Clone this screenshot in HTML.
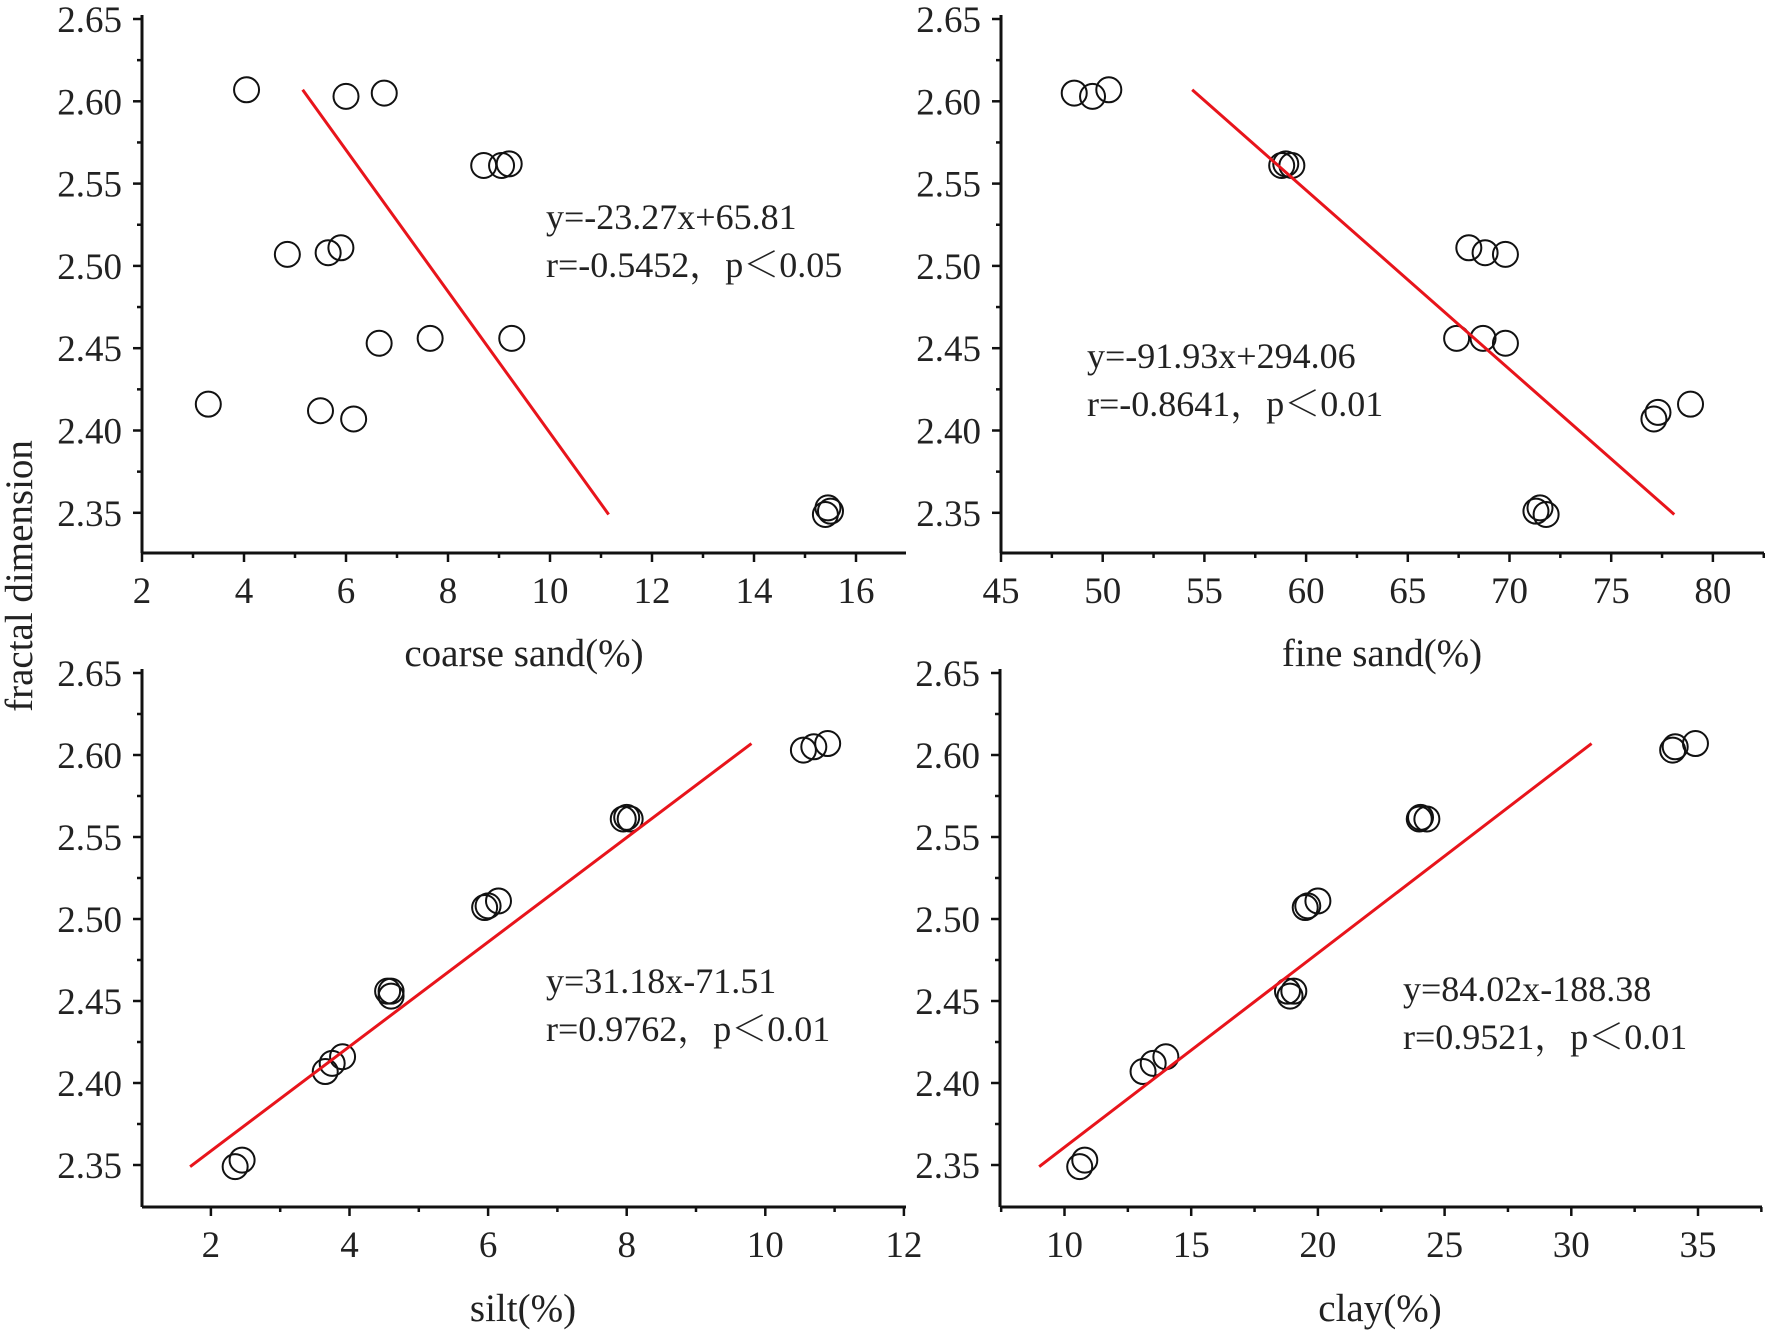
<!DOCTYPE html>
<html><head><meta charset="utf-8"><style>
html,body{margin:0;padding:0;background:#fff;}
svg{display:block;}
text{font-family:"Liberation Serif","Noto Serif CJK SC",serif;fill:#222;}
</style></head><body>
<svg id="s" width="1770" height="1338" viewBox="0 0 1770 1338" xmlns="http://www.w3.org/2000/svg">
<text x="32" y="576" font-size="39" text-anchor="middle" transform="rotate(-90 32 576)">fractal dimension</text>
</svg>
<script>
var S=document.getElementById('s'),NS='http://www.w3.org/2000/svg';
function el(t,a,txt){var e=document.createElementNS(NS,t);for(var k in a)e.setAttribute(k,a[k]);if(txt!=null)e.textContent=txt;S.appendChild(e);return e;}
function panel(P){
 var X=function(v){return P.x0+(v-P.xv0)*P.xs;},Y=function(v){return P.y265+(2.65-v)/0.05*P.ys;};
 var top=P.y265-4;
 el('line',{x1:P.ax,y1:top,x2:P.ax,y2:P.by,stroke:'#111','stroke-width':3});
 el('line',{x1:P.ax,y1:P.by,x2:P.right,y2:P.by,stroke:'#111','stroke-width':3});
 for(var i=0;i<=12;i++){var v=2.65-i*0.025,y=Y(v);if(y>P.by)break;var maj=i%2==0;
  el('line',{x1:P.ax-(maj?9:5),y1:y,x2:P.ax,y2:y,stroke:'#111','stroke-width':2.5});
  if(maj)el('text',{x:P.ax-20,y:y+13,'font-size':37,'text-anchor':'end'},v.toFixed(2));}
 P.xt.forEach(function(v){var x=X(v);el('line',{x1:x,y1:P.by,x2:x,y2:P.by+9,stroke:'#111','stroke-width':2.5});
  el('text',{x:x,y:P.by+50,'font-size':37,'text-anchor':'middle'},String(v));});
 for(var m=P.xt[0]-P.step/2;m<=P.xt[P.xt.length-1]+P.step;m+=P.step){var x=X(m);if(x<=P.ax||x>=P.right)continue;
  el('line',{x1:x,y1:P.by,x2:x,y2:P.by+5,stroke:'#111','stroke-width':2.5});}
 P.pts.forEach(function(p){el('circle',{cx:X(p[0]),cy:Y(p[1]),r:12.5,fill:'none',stroke:'#111','stroke-width':2});});
 el('line',{x1:X(P.ln[0]),y1:Y(P.ln[1]),x2:X(P.ln[2]),y2:Y(P.ln[3]),stroke:'#e8141b','stroke-width':3});
 el('text',{x:P.tx,y:P.ty,'font-size':36},P.t1);
 el('text',{x:P.tx,y:P.ty+48,'font-size':36},P.t2);
 el('text',{x:P.lx,y:P.ly,'font-size':39,'text-anchor':'middle'},P.lab);
}
panel({ax:142,right:906,by:553,y265:19,ys:82.3,x0:142,xv0:2,xs:51,xt:[2,4,6,8,10,12,14,16],step:2,
 pts:[[4.05,2.607],[6.0,2.603],[6.75,2.605],[8.7,2.561],[9.05,2.561],[9.2,2.562],[4.85,2.507],[5.65,2.508],[5.9,2.511],[6.65,2.453],[7.65,2.456],[9.25,2.456],[3.3,2.416],[5.5,2.412],[6.15,2.407],[15.4,2.349],[15.45,2.353],[15.5,2.351]],
 ln:[5.15,2.607,11.15,2.349],tx:546,ty:229,t1:'y=-23.27x+65.81',t2:'r=-0.5452，p＜0.05',lx:524,ly:666,lab:'coarse sand(%)'});
panel({ax:1001,right:1764,by:553,y265:19,ys:82.3,x0:1001,xv0:45,xs:20.34,xt:[45,50,55,60,65,70,75,80],step:5,
 pts:[[48.6,2.605],[49.5,2.603],[50.3,2.607],[58.8,2.561],[59.0,2.562],[59.3,2.561],[68.0,2.511],[68.8,2.508],[69.8,2.507],[67.4,2.456],[68.7,2.456],[69.8,2.453],[77.1,2.407],[77.3,2.411],[78.9,2.416],[71.3,2.351],[71.5,2.353],[71.8,2.349]],
 ln:[54.4,2.607,78.1,2.349],tx:1087,ty:368,t1:'y=-91.93x+294.06',t2:'r=-0.8641，p＜0.01',lx:1382,ly:666,lab:'fine sand(%)'});
panel({ax:142,right:906,by:1207,y265:673,ys:82,x0:141.6,xv0:1,xs:69.3,xt:[2,4,6,8,10,12],step:2,
 pts:[[2.35,2.349],[2.45,2.353],[3.65,2.407],[3.75,2.412],[3.9,2.416],[4.6,2.453],[4.55,2.456],[4.6,2.456],[5.95,2.507],[6.0,2.508],[6.15,2.511],[7.95,2.561],[8.0,2.562],[8.05,2.561],[10.55,2.603],[10.7,2.605],[10.9,2.607]],
 ln:[1.7,2.349,9.8,2.607],tx:546,ty:993,t1:'y=31.18x-71.51',t2:'r=0.9762，p＜0.01',lx:523,ly:1321,lab:'silt(%)'});
panel({ax:1000,right:1762,by:1207,y265:673,ys:82,x0:1064.5,xv0:10,xs:25.34,xt:[10,15,20,25,30,35],step:5,
 pts:[[10.6,2.349],[10.8,2.353],[13.1,2.407],[13.5,2.412],[14,2.416],[18.9,2.453],[18.8,2.456],[19.05,2.456],[19.5,2.507],[19.6,2.508],[20,2.511],[24,2.561],[24.05,2.562],[24.3,2.561],[34,2.603],[34.1,2.605],[34.9,2.607]],
 ln:[9,2.349,30.8,2.607],tx:1403,ty:1001,t1:'y=84.02x-188.38',t2:'r=0.9521，p＜0.01',lx:1380,ly:1321,lab:'clay(%)'});
</script>
</body></html>
